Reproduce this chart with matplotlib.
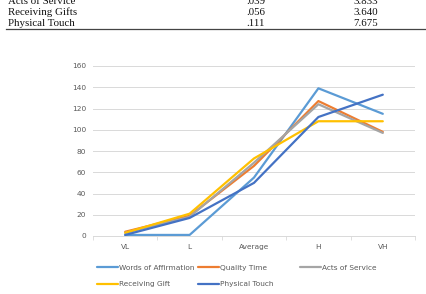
import matplotlib
matplotlib.use("Agg")
import matplotlib.pyplot as plt
from matplotlib.lines import Line2D
import numpy as np

categories = ["VL", "L", "Average", "H", "VH"]
words_of_affirmation = [1, 1, 55, 139, 115]
quality_time = [4, 19, 66, 127, 98]
acts_of_service = [3, 18, 69, 124, 97]
receiving_gift = [3, 21, 73, 108, 108]
physical_touch = [1, 17, 50, 112, 133]
y_ticks = [0, 20, 40, 60, 80, 100, 120, 140, 160]

table_labels = ["Acts of Service", "Receiving Gifts", "Physical Touch"]
table_col1 = [".039", ".056", ".111"]
table_col2 = ["3.833", "3.640", "7.675"]

W, H = 426, 294
fig = plt.figure(figsize=(W / 100, H / 100), dpi=100)

# table fragment at top
serif = ["Liberation Serif", "DejaVu Serif"]
row_y = [1, 12.5, 24]
for lab, c1, c2, y in zip(table_labels, table_col1, table_col2, row_y):
    fy = 1 - y / H
    fig.text(8 / W, fy, lab, family=serif, fontsize=7.8, va="center", ha="left", color="#111111")
    fig.text(246 / W, fy, c1, family=serif, fontsize=7.8, va="center", ha="left", color="#111111")
    fig.text(353 / W, fy, c2, family=serif, fontsize=7.8, va="center", ha="left", color="#111111")
fig.add_artist(Line2D([6 / W, 425 / W], [1 - 29 / H, 1 - 29 / H], color="#444444", lw=0.9))

ax = fig.add_axes([93 / W, 1 - 236 / H, 322 / W, 170 / H])
x = np.arange(len(categories))
series = [
    ("Words of Affirmation", words_of_affirmation, "#5B9BD5"),
    ("Quality Time", quality_time, "#ED7D31"),
    ("Acts of Service", acts_of_service, "#A5A5A5"),
    ("Receiving Gift", receiving_gift, "#FFC000"),
    ("Physical Touch", physical_touch, "#4472C4"),
]
handles = {}
for name, vals, col in series:
    (ln,) = ax.plot(x, vals, color=col, lw=1.6, solid_joinstyle="round", solid_capstyle="round", label=name)
    handles[name] = ln

ax.set_xlim(-0.5, len(categories) - 0.5)
ax.set_ylim(0, 160)
ax.set_yticks(y_ticks)
ax.set_yticklabels([str(v) for v in y_ticks])
ax.set_xticks(x)
ax.set_xticklabels(categories)
ax.set_xticks(np.arange(-0.5, len(categories), 1.0), minor=True)
ax.tick_params(axis="x", which="major", length=0, pad=5.5, labelsize=5.3, labelcolor="#595959")
ax.tick_params(axis="x", which="minor", length=3, width=0.6, color="#D9D9D9")
ax.tick_params(axis="y", length=0, pad=5, labelsize=5.3, labelcolor="#595959")
ax.grid(axis="y", color="#D9D9D9", lw=0.7)
ax.set_axisbelow(True)
for s in ["top", "right", "left"]:
    ax.spines[s].set_visible(False)
ax.spines["bottom"].set_color("#D9D9D9")
ax.spines["bottom"].set_linewidth(0.7)

cols = [(97, ["Words of Affirmation", "Receiving Gift"]),
        (198, ["Quality Time", "Physical Touch"]),
        (300, ["Acts of Service"])]
for xpx, names in cols:
    leg = fig.legend([handles[n] for n in names], names, loc="upper left",
                     bbox_to_anchor=(xpx / W, 1 - 264.5 / H), frameon=False,
                     fontsize=5.3, handlelength=2.8, handletextpad=0.25,
                     borderpad=0, borderaxespad=0, labelspacing=1.45,
                     labelcolor="#595959")

fig.savefig("out.png", dpi=100)
